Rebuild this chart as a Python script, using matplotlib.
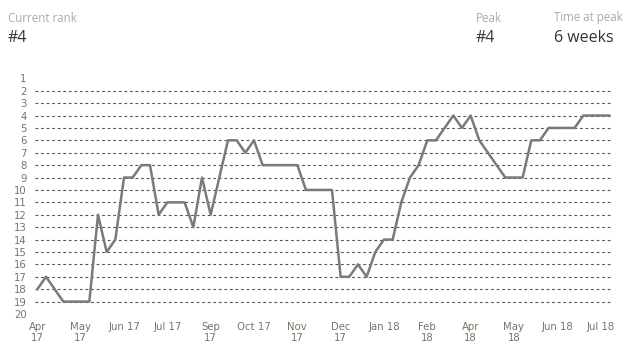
import matplotlib.pyplot as plt

# weekly chart rank, one value per week
ranks = [18, 17, 18, 19, 19, 19, 19, 12, 15, 14,
         9, 9, 8, 8, 12, 11, 11, 11, 13, 9,
         12, 9, 6, 6, 7, 6, 8, 8, 8, 8,
         8, 10, 10, 10, 10, 17, 17, 16, 17, 15,
         14, 14, 11, 9, 8, 6, 6, 5, 4, 5,
         4, 6, 7, 8, 9, 9, 9, 6, 6, 5,
         5, 5, 5, 4, 4, 4, 4]
tick_weeks = [0, 5, 10, 15, 20, 25, 30, 35, 40, 45, 50, 55, 60, 65]
tick_labels = ['Apr\n17', 'May\n17', 'Jun 17', 'Jul 17', 'Sep\n17', 'Oct 17', 'Nov\n17',
               'Dec\n17', 'Jan 18', 'Feb\n18', 'Apr\n18', 'May\n18', 'Jun 18', 'Jul 18']
rank_ticks = list(range(1, 21))

W, H = 634, 357
fig = plt.figure(figsize=(W / 100, H / 100), dpi=100)
ax = fig.add_axes([35 / W, 1 - 314 / H, 578 / W, (314 - 78.3) / H])

weeks = list(range(len(ranks)))
ax.plot(weeks, ranks, color='#7a7a7a', lw=1.8, zorder=3)

for r in rank_ticks[1:-1]:
    ax.axhline(r, color='#555555', lw=0.8, ls=(0, (2.5, 2.5)), zorder=1)

ax.set_xlim(-0.27, 66.43)
ax.set_ylim(20, 1)
ax.set_yticks(rank_ticks)
ax.set_yticklabels([str(r) for r in rank_ticks])
ax.set_xticks(tick_weeks)
ax.set_xticklabels(tick_labels, linespacing=1.1)
ax.tick_params(length=0, colors='#7a7268', labelsize=7.3, labelfontfamily='DejaVu Sans')
ax.tick_params(axis='y', pad=6)
ax.tick_params(axis='x', pad=6)
for s in ax.spines.values():
    s.set_visible(False)

hdr = ['Open Sans', 'DejaVu Sans']
fig.text(8 / W, 1 - 18 / H, 'Current rank', color='#aaaaaa', fontsize=8.3, family=hdr, va='center')
fig.text(8 / W, 1 - 38 / H, '#4', color='#333333', fontsize=11.5, family=hdr, va='center')
fig.text(476 / W, 1 - 18 / H, 'Peak', color='#aaaaaa', fontsize=8.3, family=hdr, va='center')
fig.text(476 / W, 1 - 38 / H, '#4', color='#333333', fontsize=11.5, family=hdr, va='center')
fig.text(554 / W, 1 - 18 / H, 'Time at peak', color='#aaaaaa', fontsize=8.3, family=hdr, va='center')
fig.text(554 / W, 1 - 38 / H, '6 weeks', color='#333333', fontsize=11.5, family=hdr, va='center')

fig.savefig('out.png', dpi=100)
